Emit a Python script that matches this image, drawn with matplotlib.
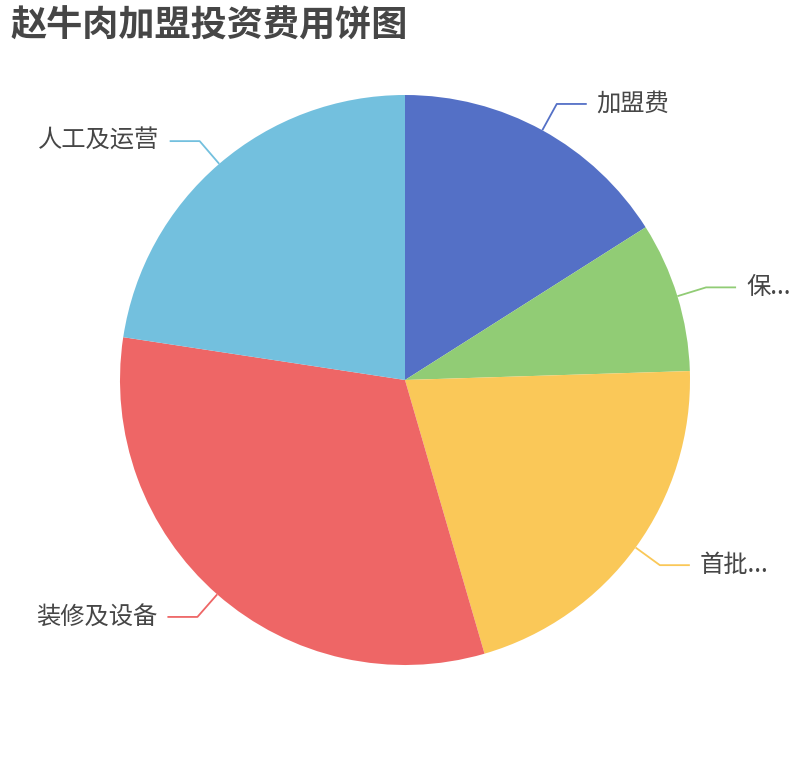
import matplotlib
matplotlib.use("Agg")
import matplotlib.pyplot as plt
import numpy as np

plt.rcParams['font.family'] = ['Noto Sans CJK SC', 'DejaVu Sans']

# datos (porcentaje aproximado de cada partida)
categorias = ['加盟费', '保证金', '首批货品', '装修及设备', '人工及运营']
etiquetas = ['加盟费', '保...', '首批...', '装修及设备', '人工及运营']
valores = [16.0, 8.5, 21.0, 31.9, 22.6]
colores = ['#5470c6', '#91cc75', '#fac858', '#ee6666', '#73c0de']

W, H = 810, 760
fig = plt.figure(figsize=(W / 100, H / 100), dpi=100)
ax = fig.add_axes([0, 0, 1, 1])

cx, cy, R = 405, H - 380, 285
wedges, _ = ax.pie(valores, colors=colores, startangle=90, counterclock=False,
                   center=(cx, cy), radius=R, frame=True,
                   wedgeprops={'linewidth': 0, 'edgecolor': 'none'})
ax.set_xlim(0, W)
ax.set_ylim(0, H)
ax.axis('off')

"lineas guia y etiquetas"
for w, lab, col in zip(wedges, etiquetas, colores):
    ang = np.deg2rad((w.theta1 + w.theta2) / 2)
    x0, y0 = cx + R * np.cos(ang), cy + R * np.sin(ang)
    x1, y1 = cx + (R + 30) * np.cos(ang), cy + (R + 30) * np.sin(ang)
    lado = 1 if np.cos(ang) >= 0 else -1
    x2 = x1 + 30 * lado
    ax.plot([x0, x1, x2], [y0, y1, y1], color=col, lw=1.3, solid_capstyle='butt')
    ax.text(x2 + 10 * lado, y1, lab, fontsize=17.5, color='#464646',
            ha='left' if lado > 0 else 'right', va='center')

fig.text(10 / W, 1 - 26 / H, '赵牛肉加盟投资费用饼图', fontsize=26,
         fontweight='bold', color='#464646', ha='left', va='center')

fig.savefig('out.png', dpi=100, facecolor='white')
